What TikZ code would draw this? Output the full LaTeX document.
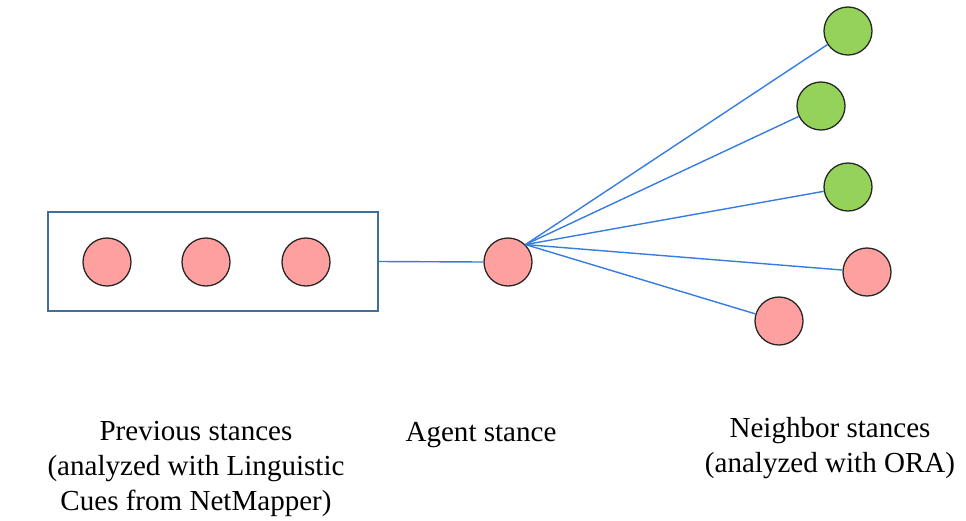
\documentclass[tikz,border=0pt]{standalone}
\usepackage{fontspec}
\setmainfont{Liberation Serif}
\definecolor{stancepink}{RGB}{255,160,160}
\definecolor{stancegreen}{RGB}{148,210,90}
\definecolor{linkblue}{RGB}{55,125,225}
\definecolor{boxblue}{RGB}{65,110,155}
\begin{document}
\begin{tikzpicture}[x = 0.03cm, y = -0.03cm,
  stance/.style = {circle, draw = black!85, line width = 1.1pt, inner sep = 0pt, minimum size = 1.44cm},
  pink/.style = {stance, fill = stancepink},
  green/.style = {stance, fill = stancegreen},
  link/.style = {line width = 1.2pt, linkblue},
  caption/.style = {align = center, anchor = base, font = \fontsize{24.8}{29.8}\selectfont}]
\useasboundingbox (0,0) rectangle (966,520);
\node[draw = boxblue, line width = 1.4pt, minimum width = 9.9cm, minimum height = 2.97cm] (prevbox) at (213,261.5) {};
\node[pink] (p1) at (107,262) {};
\node[pink] (p2) at (206,262) {};
\node[pink] (p3) at (306,262) {};
\node[pink] (agent) at (508,262) {};
\coordinate (hub) at (agent.45);
\node[green] (n1) at (848,31) {};
\node[green] (n2) at (821,106) {};
\node[green] (n3) at (848,187) {};
\node[pink] (n4) at (867,272) {};
\node[pink] (n5) at (779,321) {};
\draw[link] (prevbox.east)--(agent.west);
\foreach \n in {n1,n2,n3,n4,n5}
  \draw[link] (hub)--(\n);
% base is the last line of each caption
\node[caption] (prevtext) at (196,510) {Previous stances\\(analyzed with Linguistic\\Cues from NetMapper)};
\node[caption] (agenttext) at (481,441) {Agent stance};
\node[caption] (neightext) at (830,472) {Neighbor stances\\(analyzed with ORA)};
\end{tikzpicture}
\end{document}
